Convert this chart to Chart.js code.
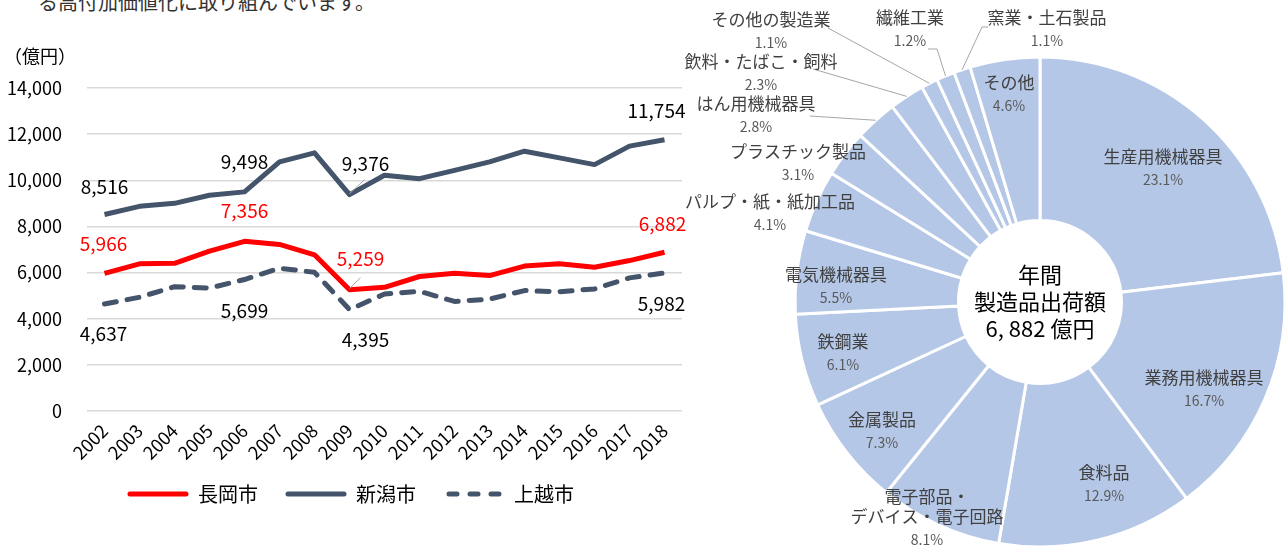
<!DOCTYPE html>
<html lang="ja">
<head>
<meta charset="utf-8">
<script src="https://cdn.jsdelivr.net/npm/chart.js@4.4.1/dist/chart.umd.min.js"></script>
<style>
  html, body { margin:0; padding:0; width:1287px; height:549px; overflow:hidden; background:#fff; }
  body { position:relative; font-family:'Noto Sans CJK JP', sans-serif; }
  #caption { position:absolute; left:38px; top:-8px; font-size:20px; line-height:20px; color:#333; white-space:nowrap; }
  #unit { position:absolute; left:4px; top:45px; font-size:18px; line-height:20px; color:#000; white-space:nowrap; }
  #lineWrap { position:absolute; left:0; top:0; width:702px; height:549px; }
  #pieWrap { position:absolute; left:600px; top:0; width:880px; height:604px; }
</style>
</head>
<body>
<div id="caption">る高付加価値化に取り組んでいます。</div>
<div id="lineWrap"><canvas id="lineChart" width="702" height="549"></canvas></div>
<div id="unit">（億円）</div>
<div id="pieWrap"><canvas id="pieChart" width="880" height="604"></canvas></div>
<script>
// ---------- data ----------
const years = ['2002','2003','2004','2005','2006','2007','2008','2009','2010','2011','2012','2013','2014','2015','2016','2017','2018'];
const nagaoka = [5966, 6380, 6400, 6930, 7356, 7220, 6770, 5259, 5360, 5830, 5970, 5870, 6280, 6380, 6230, 6520, 6882];
const niigata = [8516, 8870, 9000, 9350, 9498, 10800, 11190, 9376, 10220, 10070, 10430, 10800, 11260, 10970, 10680, 11480, 11754];
const joetsu  = [4637, 4930, 5390, 5330, 5699, 6190, 6010, 4395, 5070, 5190, 4750, 4850, 5220, 5170, 5290, 5770, 5982];
const seriesNames = ['長岡市', '新潟市', '上越市'];
const yTicks = [0, 2000, 4000, 6000, 8000, 10000, 12000, 14000];

const industries = ['生産用機械器具', '業務用機械器具', '食料品', '電子部品・\nデバイス・電子回路', '金属製品', '鉄鋼業', '電気機械器具', 'パルプ・紙・紙加工品', 'プラスチック製品', 'はん用機械器具', '飲料・たばこ・飼料', 'その他の製造業', '繊維工業', '窯業・土石製品', 'その他'];
const shares = [23.1, 16.7, 12.9, 8.1, 7.3, 6.1, 5.5, 4.1, 3.1, 2.8, 2.3, 1.1, 1.2, 1.1, 4.6];
const totalLabel = ['年間', '製造品出荷額', '6, 882 億円'];

// ---------- styles ----------
const FONT = "'Noto Sans CJK JP', 'Noto Sans', sans-serif";
Chart.defaults.font.family = FONT;
Chart.defaults.color = '#000';
const RED = '#FF0000';
const NAVY = '#44546A';
const seriesColors = [RED, NAVY, NAVY];
const seriesDash = [[], [], [12, 11]];
const legendDash = [[], [], [8, 13]];

function makeMarker(color, dash) {
  const c = document.createElement('canvas');
  c.width = 62; c.height = 8;
  const g = c.getContext('2d');
  g.strokeStyle = color; g.lineWidth = 5; g.lineCap = 'round';
  g.setLineDash(dash);
  g.beginPath();
  if (dash.length) { g.moveTo(6, 4); g.lineTo(59, 4); } else { g.moveTo(3, 4); g.lineTo(59, 4); }
  g.stroke();
  return c;
}
const legendMarkers = seriesColors.map((c, i) => makeMarker(c, legendDash[i]));

// label placement (offset from point, px) for selected indices
const lineLabelSpec = [
  [ {i:0,dx:-1,dy:-30}, {i:4,dx:0,dy:-31}, {i:7,dx:11,dy:-31,leader:[0,-1,11,-12]}, {i:16,dx:-2,dy:-28} ],
  [ {i:0,dx:0,dy:-28}, {i:4,dx:0,dy:-30}, {i:7,dx:16,dy:-31,leader:[0,-1,15,-15]}, {i:16,dx:-8,dy:-29} ],
  [ {i:0,dx:-1,dy:30}, {i:4,dx:0,dy:31}, {i:7,dx:16,dy:30}, {i:16,dx:-3,dy:31} ]
];
const lineLabelColors = [RED, '#000', '#000'];

const lineLabelPlugin = {
  id: 'lineLabels',
  afterDatasetsDraw(chart) {
    const ctx = chart.ctx;
    ctx.save();
    ctx.font = '19px ' + FONT;
    ctx.textAlign = 'center';
    ctx.textBaseline = 'middle';
    chart.data.datasets.forEach((ds, di) => {
      const meta = chart.getDatasetMeta(di);
      lineLabelSpec[di].forEach(s => {
        const pt = meta.data[s.i];
        if (s.leader) {
          ctx.strokeStyle = '#A6A6A6';
          ctx.lineWidth = 1;
          ctx.beginPath();
          ctx.moveTo(pt.x + s.leader[0], pt.y + s.leader[1]);
          ctx.lineTo(pt.x + s.leader[2], pt.y + s.leader[3]);
          ctx.stroke();
        }
        ctx.fillStyle = lineLabelColors[di];
        ctx.fillText(ds.data[s.i].toLocaleString('en-US'), pt.x + s.dx, pt.y + s.dy);
      });
    });
    ctx.restore();
  }
};

const seriesData = [nagaoka, niigata, joetsu];
new Chart(document.getElementById('lineChart'), {
  type: 'line',
  data: {
    labels: years,
    datasets: seriesData.map((d, i) => ({
      label: seriesNames[i], data: d, borderColor: seriesColors[i], backgroundColor: seriesColors[i],
      borderWidth: 5, pointRadius: 0, tension: 0, borderDash: seriesDash[i],
      borderCapStyle: seriesDash[i].length ? 'round' : 'butt', borderJoinStyle: 'round'
    }))
  },
  options: {
    responsive: false,
    animation: false,
    devicePixelRatio: 1,
    layout: { padding: { top: 88, right: 0, left: 0, bottom: 35 } },
    plugins: {
      tooltip: { enabled: false },
      legend: {
        position: 'bottom',
        labels: {
          usePointStyle: true,
          pointStyleWidth: 60,
          boxHeight: 20,
          padding: 28,
          color: '#000',
          font: { size: 20 },
          generateLabels(chart) {
            const items = Chart.defaults.plugins.legend.labels.generateLabels(chart);
            items.forEach((it, i) => { it.pointStyle = legendMarkers[i]; });
            return items;
          }
        }
      }
    },
    scales: {
      x: {
        offset: true,
        grid: { display: false, drawTicks: false },
        border: { display: false },
        ticks: { maxRotation: 45, minRotation: 45, autoSkip: false, font: { size: 18 }, color: '#000', padding: 9 },
        afterFit(scale) { scale.height = 45; scale._computeLabelArea = () => undefined; }
      },
      y: {
        min: 0, max: 14000,
        afterBuildTicks(scale) { scale.ticks = yTicks.map(v => ({ value: v })); },
        grid: { color: '#D9D9D9', lineWidth: 1.5, drawTicks: false },
        border: { display: false },
        ticks: { font: { size: 18 }, color: '#000', padding: 25, callback: v => v.toLocaleString('en-US') },
        afterFit(scale) { scale.width = 87; }
      },
      y2: {
        position: 'right', display: true,
        grid: { display: false, drawTicks: false },
        border: { display: false },
        ticks: { display: false },
        afterFit(scale) { scale.width = 20; }
      }
    }
  },
  plugins: [lineLabelPlugin]
});

// ---------- doughnut ----------
// label anchor (first line centre) as offset from the ring centre; optional leader start points
const pieLabelSpec = [
  {dx:123, dy:-145}, {dx:164, dy:76}, {dx:64, dy:171}, {dx:-113, dy:195}, {dx:-158, dy:118},
  {dx:-197, dy:40}, {dx:-204, dy:-27}, {dx:-270, dy:-100}, {dx:-242, dy:-150},
  {dx:-284, dy:-198, leader:[[-230,-186]]},
  {dx:-279, dy:-240, leader:[[-227,-233]]},
  {dx:-269, dy:-282, leader:[[-212,-274]]},
  {dx:-130, dy:-284, leader:[[-112,-253],[-103,-253]]},
  {dx:7, dy:-284, leader:[[-52,-275],[-58,-275]]},
  {dx:-31, dy:-219}
];

const pieLabelPlugin = {
  id: 'pieLabels',
  afterDatasetsDraw(chart) {
    const ctx = chart.ctx;
    const meta = chart.getDatasetMeta(0);
    ctx.save();
    ctx.textAlign = 'center';
    ctx.textBaseline = 'middle';
    meta.data.forEach((arc, i) => {
      const p = arc.getProps(['x','y','startAngle','endAngle','outerRadius'], true);
      const cx = p.x, cy = p.y;
      const s = pieLabelSpec[i];
      if (s.leader) {
        const mid = (p.startAngle + p.endAngle) / 2;
        ctx.strokeStyle = '#A6A6A6';
        ctx.lineWidth = 1;
        ctx.beginPath();
        ctx.moveTo(cx + s.leader[0][0], cy + s.leader[0][1]);
        for (let k = 1; k < s.leader.length; k++) ctx.lineTo(cx + s.leader[k][0], cy + s.leader[k][1]);
        ctx.lineTo(cx + p.outerRadius * Math.cos(mid), cy + p.outerRadius * Math.sin(mid));
        ctx.stroke();
      }
      const lines = industries[i].split('\n');
      let y = cy + s.dy;
      ctx.fillStyle = '#404040';
      ctx.font = '17px ' + FONT;
      lines.forEach((ln, k) => { ctx.fillText(ln, cx + s.dx, y + k * 20); });
      y += (lines.length - 1) * 20 + 23;
      ctx.fillStyle = '#595959';
      ctx.font = '14px ' + FONT;
      ctx.fillText(shares[i].toFixed(1) + '%', cx + s.dx, y);
    });
    // centre text
    const a = meta.data[0];
    ctx.fillStyle = '#000';
    ctx.font = '22px ' + FONT;
    totalLabel.forEach((t, k) => ctx.fillText(t, a.x, a.y - 27 + k * 27));
    ctx.restore();
  }
};

new Chart(document.getElementById('pieChart'), {
  type: 'doughnut',
  data: {
    labels: industries,
    datasets: [{ data: shares, backgroundColor: '#B4C7E7', borderColor: '#FFFFFF', borderWidth: 3, hoverOffset: 0, borderAlign: 'center' }]
  },
  options: {
    responsive: false,
    animation: false,
    devicePixelRatio: 1,
    radius: 245,
    cutout: 100,
    plugins: { legend: { display: false }, tooltip: { enabled: false } }
  },
  plugins: [pieLabelPlugin]
});
</script>
</body>
</html>
